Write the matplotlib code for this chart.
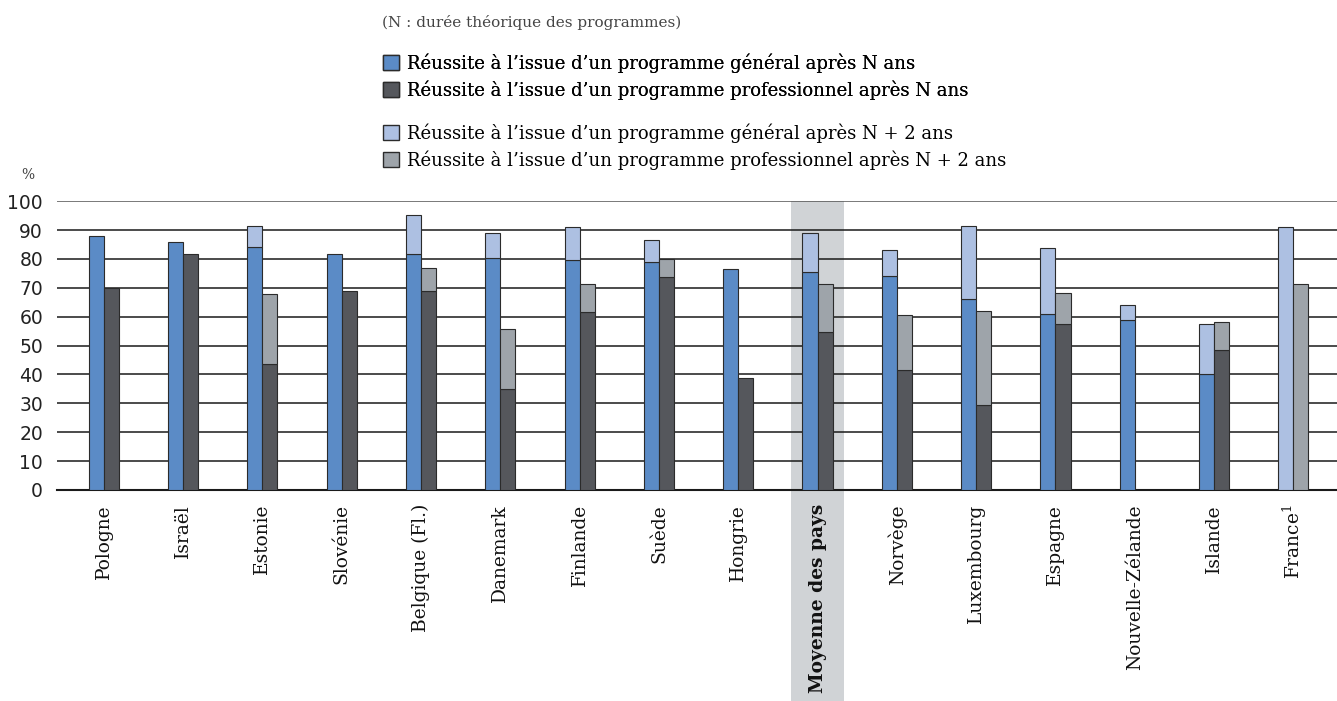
import matplotlib
matplotlib.use("Agg")
import matplotlib.pyplot as plt
import matplotlib.transforms as mtransforms
from matplotlib.patches import Patch, Rectangle
import numpy as np

nan = np.nan
plt.rcParams["mathtext.fontset"] = "dejavuserif"

countries = ["Pologne", "Israël", "Estonie", "Slovénie", "Belgique (Fl.)",
             "Danemark", "Finlande", "Suède", "Hongrie", "Moyenne des pays",
             "Norvège", "Luxembourg", "Espagne", "Nouvelle-Zélande",
             "Islande", "France$^{1}$"]

# success rates (%), after N years and after N + 2 years
gen_n = [88, 86, 84.3, 81.7, 81.7, 80.4, 79.6, 79, 76.4, 75.5,
         74.1, 66.3, 60.8, 58.8, 40.3, nan]
gen_n2 = [nan, nan, 91.4, nan, 95.1, 89.1, 91, 86.6, nan, 88.9,
          83.2, 91.3, 83.8, 64, 57.5, 91.2]
pro_n = [69.9, 81.8, 43.5, 69, 69, 34.8, 61.5, 73.8, 38.7, 54.6,
         41.4, 29.3, 57.6, nan, 48.4, nan]
pro_n2 = [nan, nan, 67.7, nan, 76.8, 55.6, 71.4, 79.9, nan, 71.2,
          60.6, 61.9, 68.1, nan, 58.2, 71.3]

labels = ["Réussite à l’issue d’un programme général après N ans",
          "Réussite à l’issue d’un programme professionnel après N ans",
          "Réussite à l’issue d’un programme général après N + 2 ans",
          "Réussite à l’issue d’un programme professionnel après N + 2 ans"]

c_gen = "#5b8bc6"
c_pro = "#55575c"
c_gen2 = "#adc0e2"
c_pro2 = "#9ea4aa"
edge = "#2b2b2b"

serif = ["DejaVu Serif"]

fig = plt.figure(figsize=(13.37, 7.01), dpi=100)
ax = fig.add_axes([0.0426, 0.301, 0.9574, 0.412])

x = np.arange(len(countries))
w = 0.19

gn = np.array(gen_n, dtype=float)
gn2 = np.array(gen_n2, dtype=float)
pn = np.array(pro_n, dtype=float)
pn2 = np.array(pro_n2, dtype=float)

base_g = np.nan_to_num(gn)
base_p = np.nan_to_num(pn)

kw = dict(width=w, edgecolor=edge, linewidth=0.8, zorder=3)
ax.bar(x - w / 2, gn, color=c_gen, **kw)
ax.bar(x - w / 2, gn2 - base_g, bottom=base_g, color=c_gen2, **kw)
ax.bar(x + w / 2, pn, color=c_pro, **kw)
ax.bar(x + w / 2, pn2 - base_p, bottom=base_p, color=c_pro2, **kw)

ax.set_xlim(-0.59, 15.55)
ax.set_ylim(0, 100)
ax.set_yticks(np.arange(0, 101, 10))
ax.yaxis.grid(True, color="#1a1a1a", linewidth=1.1, zorder=1)
ax.set_axisbelow(True)
ax.get_ygridlines()[-1].set_color("#555555")
for s in ["left", "right", "top"]:
    ax.spines[s].set_visible(False)
ax.spines["bottom"].set_linewidth(1.5)
ax.spines["bottom"].set_color("#1a1a1a")
ax.tick_params(axis="y", length=0, pad=10, labelsize=13.5, labelcolor="#222222")
ax.tick_params(axis="x", length=0, pad=10)
ax.set_xticks(x)
ax.set_xticklabels(countries, rotation=90, va="top", ha="center",
                   family=serif, fontsize=13.4, color="#111111")
avg = countries.index("Moyenne des pays")
ax.get_xticklabels()[avg].set_fontweight("bold")

# shaded band for the average, running down through the labels
trans = mtransforms.blended_transform_factory(ax.transData, fig.transFigure)
top = ax.get_position().y1
ax.add_patch(Rectangle((avg - 0.34, 0), 0.68, top, transform=trans,
                       facecolor="#d0d3d6", edgecolor="none",
                       zorder=0, clip_on=False))

fig.text(0.016, 0.745, "%", family=serif, fontsize=10, color="#444444")

fig.text(0.2857, 0.968, "(N : durée théorique des programmes)", family=serif,
         fontsize=11, color="#444444", va="center")

cols = [c_gen, c_pro, c_gen2, c_pro2]
handles = [Patch(facecolor=c, edgecolor=edge, linewidth=1.0) for c in cols]
leg_kw = dict(loc="upper left", frameon=False, handlelength=0.9,
              handleheight=0.9, handletextpad=0.45, labelspacing=0.43,
              borderpad=0, borderaxespad=0,
              prop={"family": serif, "size": 13})
leg1 = fig.legend(handles[:2], labels[:2], bbox_to_anchor=(0.2865, 0.924),
                  **leg_kw)
fig.add_artist(leg1)
fig.legend(handles[2:], labels[2:], bbox_to_anchor=(0.2865, 0.8245), **leg_kw)

fig.savefig("out.png", dpi=100)
